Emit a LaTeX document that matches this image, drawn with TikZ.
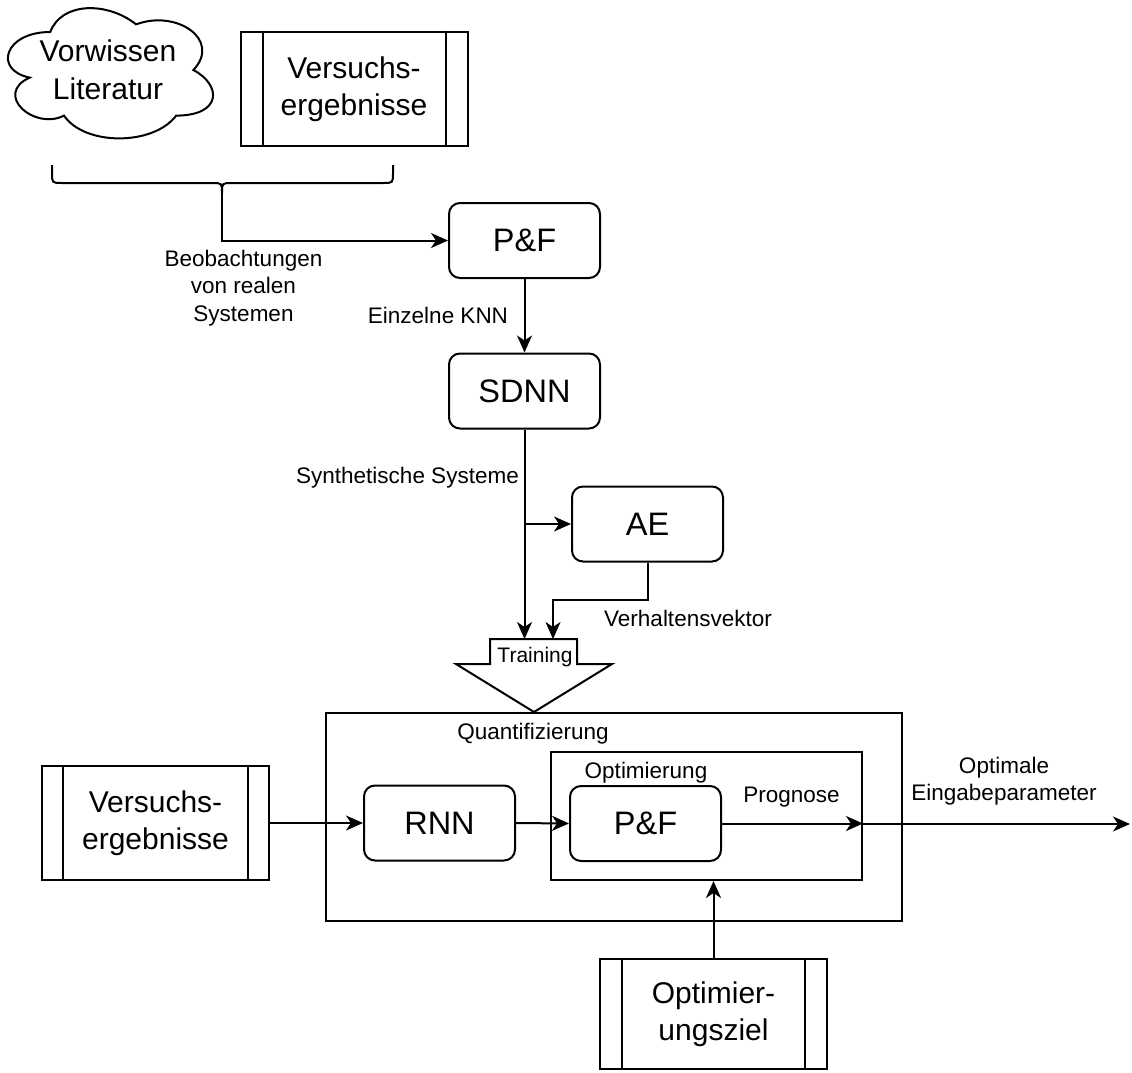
\documentclass[tikz,border=0pt]{standalone}
\usepackage{fontspec}
\setmainfont{Liberation Sans}
\usetikzlibrary{arrows.meta}
\tikzset{
  lw/.style={line width=2pt},
  rbox/.style={draw, lw, rounded corners=11pt, minimum width=151pt, minimum height=75pt, inner sep=0pt, font=\fontsize{32.5}{38}\selectfont},
  pbox/.style={draw, lw, minimum width=227pt, minimum height=114pt, inner sep=0pt, align=center, font=\fontsize{30}{37}\selectfont},
  lbl/.style={inner sep=0pt, align=center, font=\fontsize{22.5}{27.5}\selectfont},
  frame/.style={draw, lw, inner sep=0pt},
  arr/.style={lw, -{Stealth[length=17pt,width=15pt,inset=5pt]}}
}
\begin{document}
\begin{tikzpicture}[x=1pt,y=-1pt]
\useasboundingbox[fill=white] (0,0) rectangle (1132,1073);

% cloud
\begin{scope}[shift={(-7,-6)}, x=229pt, y=-152pt]
\draw[lw] (0.25,0.25) .. controls (0.05,0.25) and (0,0.5) .. (0.16,0.55)
  .. controls (0,0.66) and (0.18,0.9) .. (0.31,0.8)
  .. controls (0.4,1) and (0.7,1) .. (0.8,0.8)
  .. controls (1,0.8) and (1,0.6) .. (0.875,0.5)
  .. controls (1,0.3) and (0.8,0.1) .. (0.625,0.2)
  .. controls (0.5,0.05) and (0.3,0.05) .. (0.25,0.25) -- cycle;
\end{scope}
\node[inner sep=0pt, align=center, font=\fontsize{30}{38}\selectfont] (vw) at (108,70) {Vorwissen\\Literatur};

% top process box
\node[pbox] (ve1) at (354,89) {Versuchs-\\ergebnisse};
\draw[lw] ([xshift=23pt]ve1.north west) -- ([xshift=23pt]ve1.south west);
\draw[lw] ([xshift=-23pt]ve1.north east) -- ([xshift=-23pt]ve1.south east);

% brace
\coordinate (bt) at (222,193);
\draw[lw] (52,165) -- (52,173) .. controls (52,183) .. (62,183) -- (212,183)
  .. controls (222,183) .. (bt) .. controls (222,183) .. (232,183) -- (383,183)
  .. controls (393,183) .. (393,173) -- (393,165);

% P&F, SDNN, AE
\node[rbox] (pf1) at (524.5,240.5) {P\&F};
\node[rbox] (sdnn) at (524.5,391) {SDNN};
\node[rbox] (ae) at (647.5,524) {AE};

\draw[arr] (bt) |- (pf1.west);
\draw[arr] (pf1.south) -- (sdnn.north);

% Training arrow
\coordinate (ttop) at (534,639);
\draw[lw, line join=miter] (490,639) -- (577,639) -- (577,664) -- (612,664) -- (534,712) -- (456,664) -- (490,664) -- cycle;
\node[inner sep=0pt, anchor=base, font=\fontsize{21}{25}\selectfont] (train) at (535,662) {Training};

\draw[arr] (sdnn.south) -- (sdnn.south |- ttop);
\draw[arr] (sdnn.south |- ae.west) -- (ae.west);
\coordinate (vk) at (553,600);
\draw[arr] (ae.south) |- (vk) -- (vk |- ttop);

% labels
\node[lbl] (beo) at (243.5,288) {Beobachtungen\\von realen\\Systemen};
\node[lbl, anchor=base] (eknn) at (438,323) {Einzelne KNN};
\node[lbl, anchor=base] (syn) at (407.5,483) {Synthetische Systeme};
\node[lbl, anchor=base] (vhv) at (688,626) {Verhaltensvektor};

% Quantifizierung
\node[frame, minimum width=576pt, minimum height=208pt] (quant) at (614,817) {};
\node[frame, minimum width=311pt, minimum height=128pt] (opt) at (706.5,816) {};
\node[lbl, anchor=base] (qlbl) at (533,739) {Quantifizierung};
\node[lbl, anchor=base] (olbl) at (646,778) {Optimierung};
\node[lbl, anchor=base] (plbl) at (791.5,802) {Prognose};

\node[rbox] (rnn) at (439.5,823) {RNN};
\node[rbox] (pf2) at (645.5,823.5) {P\&F};

% left process box
\node[pbox] (ve2) at (155.5,823) {Versuchs-\\ergebnisse};
\draw[lw] ([xshift=22pt]ve2.north west) -- ([xshift=22pt]ve2.south west);
\draw[lw] ([xshift=-22pt]ve2.north east) -- ([xshift=-22pt]ve2.south east);

% bottom process box
\node[pbox, minimum height=110pt] (oz) at (713.5,1014) {Optimier-\\ungsziel};
\draw[lw] ([xshift=23pt]oz.north west) -- ([xshift=23pt]oz.south west);
\draw[lw] ([xshift=-23pt]oz.north east) -- ([xshift=-23pt]oz.south east);

% connectors
\draw[arr] (ve2.east) -- (rnn.west);
\draw[arr] (rnn.east) -- (pf2.west);
\draw[arr] (pf2.east) -- (opt.east |- pf2.east);
\coordinate (out) at (1130,824);
\draw[arr] (opt.east |- out) -- (out);
\draw[arr] (oz.north) -- (oz.north |- opt.south);

\node[lbl] (oep) at (1004,781) {Optimale\\Eingabeparameter};
\end{tikzpicture}
\end{document}
